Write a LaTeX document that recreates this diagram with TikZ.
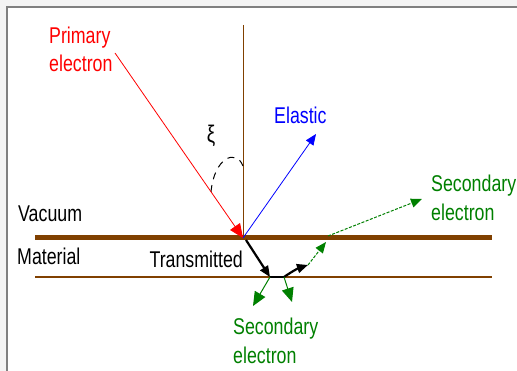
\documentclass[tikz,border=0pt]{standalone}
\usepackage{fontspec}
\setmainfont{Liberation Sans}[FakeStretch=0.78]
\usetikzlibrary{arrows.meta}
\definecolor{brn}{RGB}{128,64,0}
\definecolor{grn}{RGB}{0,128,0}
\definecolor{frm}{RGB}{128,128,128}
\definecolor{bgg}{RGB}{244,244,244}
\begin{document}
\begin{tikzpicture}[x=1pt,y=-1pt,
  lbl/.style={inner sep=0pt,anchor=base west,font=\fontsize{22.8}{28}\selectfont},
  tip/.style={-{Triangle[length=14pt,width=12pt]}},
  smalltip/.style={-{Triangle[length=11pt,width=9pt]}},
  greendash/.style={grn,line width=1pt,dash pattern=on 3pt off 1.5pt},
]
\useasboundingbox (0,0) rectangle (517,371);
\fill[bgg] (0,0) rectangle (517,371);
\fill[white] (8,8) rectangle (517,371);
\draw[frm,line width=2pt] (7,371) -- (7,7) -- (517,7);

% key points
\coordinate (O) at (243,238);
\coordinate (Vtop) at (243,25);
\coordinate (SL) at (35,238);
\coordinate (SR) at (492,238);
\coordinate (BL) at (35,277);
\coordinate (BR) at (492,277);
\coordinate (Pstart) at (115,53);
\coordinate (Eend) at (316,134);
\coordinate (T0) at (246,240);
\coordinate (T1) at (270,277);
\coordinate (T2) at (284,277);
\coordinate (T3) at (308,265);
\coordinate (G1) at (326,242);
\coordinate (G2) at (328,236);
\coordinate (G3) at (422,199);
\coordinate (D1) at (253,306);
\coordinate (D2) at (292,302);
\coordinate (Astart) at (211,192);
\coordinate (Aend) at (243,166);

% surfaces
\draw[brn,line width=1pt] (Vtop) -- (O);
\draw[brn,line width=5pt] (SL) -- (SR);
\draw[brn,line width=1.3pt] (BL) -- (BR);

% angle
\draw[black,line width=1pt,dash pattern=on 7pt off 6pt] (Astart) .. controls (214,158) and (236,148) .. (Aend);

% rays
\draw[red,line width=0.8pt,tip] (Pstart) -- (O);
\draw[blue,line width=0.8pt,smalltip] (O) -- (Eend);
\draw[black,line width=2.2pt,smalltip] (T0) -- (T1);
\draw[black,line width=2.2pt] (T1) -- (T2);
\draw[black,line width=2.2pt,smalltip] (T2) to[bend left=8] (T3);
\draw[greendash,smalltip] (T3) -- (G1);
\draw[greendash,smalltip] (G2) -- (G3);
\draw[grn,line width=1pt,tip] (T1) -- (D1);
\draw[grn,line width=1pt,tip] (T2) -- (D2);

% labels
\node[lbl,red] (prim1) at (49,44) {Primary};
\node[lbl,red] (prim2) at (49,72) {electron};
\node[lbl,blue] (elas) at (274,124) {Elastic};
\node[inner sep=0pt,font=\fontsize{24}{28}\selectfont] (xi) at (211,136) {ξ};
\node[lbl] (vac) at (18,221.5) {Vacuum};
\node[lbl] (mat) at (17,265) {Material};
\node[lbl,anchor=base east] (trans) at (243,268) {Transmitted};
\node[lbl,grn] (sec1) at (431,192) {Secondary};
\node[lbl,grn] (sec2) at (431,221) {electron};
\node[lbl,grn] (sec3) at (233,335) {Secondary};
\node[lbl,grn] (sec4) at (233,364) {electron};
\end{tikzpicture}
\end{document}
